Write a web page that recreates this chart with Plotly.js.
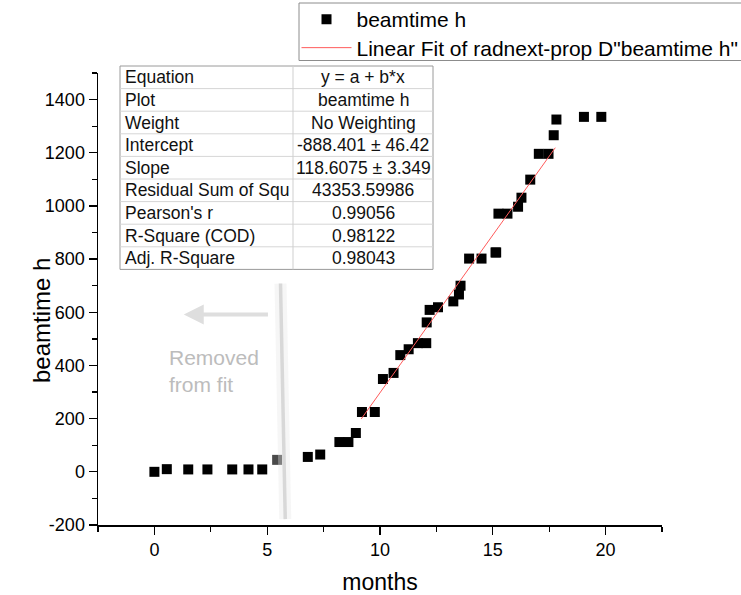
<!DOCTYPE html>
<html>
<head>
<meta charset="utf-8">
<script src="https://cdn.plot.ly/plotly-3.0.1.min.js"></script>
<style>html,body{margin:0;padding:0;background:#fff;}#chart{width:741px;height:595px;}</style>
</head>
<body>
<div id="chart"></div>
<script>
// ---- data ----
const months = [0, 0.55, 1.5, 2.35, 3.45, 4.17, 4.78, 5.44,
  6.8, 7.35, 8.2, 8.6, 8.93, 9.2, 9.77, 10.13, 10.6, 10.9, 11.27, 11.68, 12.05,
  12.07, 12.2, 12.57, 13.25, 13.5, 13.57, 13.95, 14.5, 15.12, 15.15, 15.25, 15.65,
  16.12, 16.27, 16.66, 17.04, 17.47, 17.7, 17.82, 19.04, 19.81];
const beamtime = [0, 10, 9, 9, 9, 9, 9, 45,
  56, 65, 112, 112, 146, 225, 225, 349, 372, 439, 461, 484, 484,
  562, 609, 619, 641, 667, 700, 802, 802, 825, 825, 971, 971,
  997, 1031, 1099, 1196, 1196, 1266, 1325, 1335, 1335];
const fitX = [9.17, 17.77];
const fitY = [199, 1219];
const xTicks = [0, 5, 10, 15, 20];
const yTicks = [-200, 0, 200, 400, 600, 800, 1000, 1200, 1400];
const tableLabels = ["Equation", "Plot", "Weight", "Intercept", "Slope",
  "Residual Sum of Squ", "Pearson's r", "R-Square (COD)", "Adj. R-Square"];
const tableValues = ["y = a + b*x", "beamtime h", "No Weighting", "-888.401 ± 46.42",
  "118.6075 ± 3.349", "43353.59986", "0.99056", "0.98122", "0.98043"];
const seriesName = "beamtime h";
const fitName = 'Linear Fit of radnext-prop D"beamtime h"';
const xTitle = "months";
const yTitle = "beamtime h";
const removedIndex = 7;

// ---- layout helpers (pixel -> paper) ----
const L = 98, R = 662, T = 73, B = 525;
const px = v => (v - L) / (R - L);
const py = v => (B - v) / (B - T);
const FONT = "Liberation Sans, Arial, sans-serif";

const shapes = [];
const annotations = [];

// removed-from-fit bar with soft shadow
shapes.push({type: 'line', xref: 'x', yref: 'y', x0: 5.59, y0: 708, x1: 5.80, y1: -178,
  line: {color: 'rgba(228,228,228,0.35)', width: 12}, layer: 'above'});
shapes.push({type: 'line', xref: 'x', yref: 'y', x0: 5.59, y0: 708, x1: 5.80, y1: -178,
  line: {color: '#d8d8d8', width: 3.5}, layer: 'above'});

annotations.push({xref: 'x', yref: 'y', axref: 'x', ayref: 'y', x: 1.3, y: 592, ax: 5.1, ay: 592,
  showarrow: true, arrowhead: 2, arrowsize: 1, arrowwidth: 4, arrowcolor: '#dedede', text: ''});
annotations.push({xref: 'x', yref: 'y', x: 0.56, y: 380, xanchor: 'left', yanchor: 'middle',
  text: 'Removed<br>from fit', align: 'left', showarrow: false,
  font: {family: FONT, size: 21, color: '#bcbcbc'}});

// y-axis title (placed off-centre, as in the reference)
annotations.push({xref: 'paper', yref: 'paper', x: px(41), y: py(321), xanchor: 'center', yanchor: 'middle',
  text: yTitle, textangle: -90, showarrow: false, font: {family: FONT, size: 24, color: '#000'}});

// fit-parameters table
const tx0 = 120, tx1 = 433, tmid = 293, ty0 = 66, rowH = 22.6;
const nRows = tableLabels.length;
shapes.push({type: 'rect', xref: 'paper', yref: 'paper', x0: px(tx0), x1: px(tx1),
  y0: py(ty0), y1: py(ty0 + nRows * rowH), fillcolor: '#ffffff',
  line: {color: '#9a9a9a', width: 1}, layer: 'above'});
for (let i = 1; i < nRows; i++) {
  const yy = py(ty0 + i * rowH);
  shapes.push({type: 'line', xref: 'paper', yref: 'paper', x0: px(tx0), x1: px(tx1), y0: yy, y1: yy,
    line: {color: '#d6d6d6', width: 1}, layer: 'above'});
}
shapes.push({type: 'line', xref: 'paper', yref: 'paper', x0: px(tmid), x1: px(tmid),
  y0: py(ty0), y1: py(ty0 + nRows * rowH), line: {color: '#cfcfcf', width: 1}, layer: 'above'});
tableLabels.forEach((t, i) => {
  annotations.push({xref: 'paper', yref: 'paper', x: px(tx0 + 3), y: py(ty0 + (i + 0.5) * rowH),
    xanchor: 'left', yanchor: 'middle', text: t, showarrow: false,
    font: {family: FONT, size: 17.5, color: '#111'}});
});
tableValues.forEach((t, i) => {
  annotations.push({xref: 'paper', yref: 'paper', x: px((tmid + tx1) / 2), y: py(ty0 + (i + 0.5) * rowH),
    xanchor: 'center', yanchor: 'middle', text: t, showarrow: false,
    font: {family: FONT, size: 17.5, color: '#111'}});
});

// legend frame (runs past the right edge as in the reference)
shapes.push({type: 'rect', xref: 'paper', yref: 'paper', x0: px(299), x1: px(770),
  y0: py(3), y1: py(60.5), fillcolor: 'rgba(0,0,0,0)',
  line: {color: '#8c8c8c', width: 1}, layer: 'above'});

const markerColors = months.map((_, i) => i === removedIndex ? '#4a4a4a' : '#000000');

const traces = [
  {x: months, y: beamtime, type: 'scatter', mode: 'markers', name: seriesName, legend: 'legend',
   marker: {symbol: 'square', size: 10, color: markerColors, line: {width: 0}}},
  {x: fitX, y: fitY, type: 'scatter', mode: 'lines', name: fitName, legend: 'legend2',
   line: {color: '#ff5a5a', width: 1}}
];

const axisCommon = {
  showgrid: false, zeroline: false, showline: true, linecolor: '#000', linewidth: 1.5,
  ticks: 'outside', tickwidth: 1.3, tickcolor: '#000', ticklen: 8,
  tickfont: {family: FONT, size: 18, color: '#000'}, mirror: false
};

const legendCommon = {xanchor: 'left', yanchor: 'top', bgcolor: 'rgba(0,0,0,0)',
  borderwidth: 0, itemwidth: 50, font: {family: FONT, size: 21, color: '#000'}};

const layout = {
  width: 741, height: 595,
  margin: {l: L, r: 741 - R, t: T, b: 595 - B, autoexpand: false},
  paper_bgcolor: '#fff', plot_bgcolor: '#fff',
  font: {family: FONT},
  xaxis: Object.assign({}, axisCommon, {
    range: [-2.5, 22.5], tickvals: xTicks, ticktext: xTicks.map(String),
    minor: {dtick: 2.5, tick0: 0, ticks: 'outside', ticklen: 5, tickcolor: '#000', tickwidth: 1.3},
    title: {text: xTitle, font: {family: FONT, size: 23, color: '#000'}, standoff: 20}
  }),
  yaxis: Object.assign({}, axisCommon, {
    range: [-200, 1500], tickvals: yTicks, ticktext: yTicks.map(String),
    minor: {dtick: 100, tick0: 0, ticks: 'outside', ticklen: 5, tickcolor: '#000', tickwidth: 1.3}
  }),
  showlegend: true,
  legend: Object.assign({}, legendCommon, {x: px(296.5), y: py(-1)}),
  legend2: Object.assign({}, legendCommon, {x: px(296.5), y: py(27.5)}),
  shapes: shapes,
  annotations: annotations
};

Plotly.newPlot('chart', traces, layout, {displayModeBar: false, staticPlot: true});
</script>
</body>
</html>
